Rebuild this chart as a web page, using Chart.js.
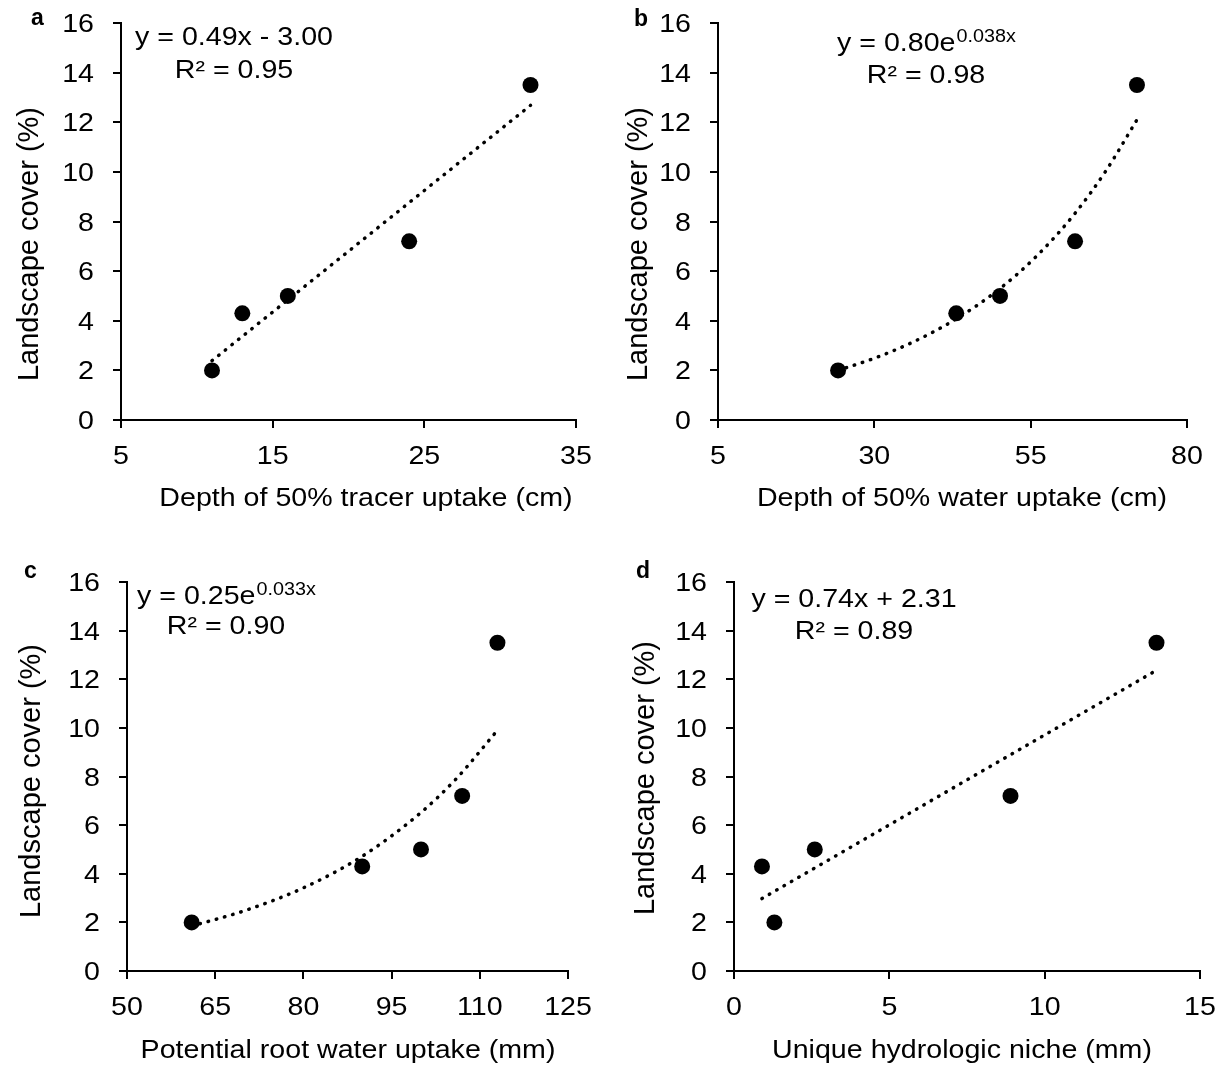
<!DOCTYPE html>
<html>
<head>
<meta charset="utf-8">
<title>Landscape cover vs. root water uptake</title>
<script src="https://cdn.jsdelivr.net/npm/chart.js@4.4.1/dist/chart.umd.min.js"></script>
<style>
  html, body { margin: 0; padding: 0; background: #fff; }
  #figure { position: relative; width: 1223px; height: 1073px; }
  #figure canvas { position: absolute; left: 0; top: 0; }
</style>
</head>
<body>
<div id="figure">
  <canvas id="panel-a" width="1223" height="1073"></canvas>
  <canvas id="panel-b" width="1223" height="1073"></canvas>
  <canvas id="panel-c" width="1223" height="1073"></canvas>
  <canvas id="panel-d" width="1223" height="1073"></canvas>
</div>
<script>
// Landscape cover (%) - same five species in every panel
const coverY = [2, 4.3, 5, 7.2, 13.5];
const coverTicks = [0, 2, 4, 6, 8, 10, 12, 14, 16];

// a - depth of 50% tracer uptake (cm)
const tracerDepth = [11, 13, 16, 24, 32];
const tracerTicks = [5, 15, 25, 35];
const tracerTrendX = [11, 32];
const tracerTrendY = [2.39, 12.68];

// b - depth of 50% water uptake (cm)
const waterDepth = [24.2, 43.1, 50.1, 62.1, 72];
const waterTicks = [5, 30, 55, 80];
const waterTrendX = [24.2, 30, 36, 43, 50, 56, 62, 67, 72];
const waterTrendY = [2.0, 2.49, 3.12, 4.06, 5.28, 6.62, 8.30, 10.03, 12.1];

// c - potential root water uptake (mm)
const rootUptake = [61, 90, 100, 107, 113];
const rootTicks = [50, 65, 80, 95, 110, 125];
const rootTrendX = [61, 70, 80, 90, 100, 106, 113];
const rootTrendY = [1.85, 2.48, 3.42, 4.72, 6.52, 7.91, 9.9];

// d - unique hydrologic niche (mm)
const nicheSize = [1.3, 0.9, 2.6, 8.9, 13.6];
const nicheTicks = [0, 5, 10, 15];
const nicheTrendX = [0.9, 13.6];
const nicheTrendY = [2.98, 12.37];

const PAGE_W = 1223, PAGE_H = 1073;
const STRETCH = 1.1;   // text in the original is drawn a bit wide
const FONT = '"Liberation Sans", Arial, sans-serif';
const TXT = 26;        // tick labels, x titles, equations
const SUP = 18;

const panels = [
  { id: 'panel-a', letter: 'a', x: tracerDepth, xTicks: tracerTicks, trendX: tracerTrendX, trendY: tracerTrendY,
    xTitle: 'Depth of 50% tracer uptake (cm)',
    box: { l: 121, t: 23, r: 576, b: 420 },
    letterPos: [31, 25], yTitlePos: [38, 244], xTitlePos: [366, 506],
    eq: [['y = 0.49x - 3.00'], ['R² = 0.95']], eqPos: [234, 45, 78] },
  { id: 'panel-b', letter: 'b', x: waterDepth, xTicks: waterTicks, trendX: waterTrendX, trendY: waterTrendY,
    xTitle: 'Depth of 50% water uptake (cm)',
    box: { l: 718, t: 23, r: 1187, b: 420 },
    letterPos: [634, 26], yTitlePos: [647, 244], xTitlePos: [962, 506],
    eq: [['y = 0.80e', '0.038x'], ['R² = 0.98']], eqPos: [926, 51, 83] },
  { id: 'panel-c', letter: 'c', x: rootUptake, xTicks: rootTicks, trendX: rootTrendX, trendY: rootTrendY,
    xTitle: 'Potential root water uptake (mm)',
    box: { l: 127, t: 582, r: 568, b: 971 },
    letterPos: [24, 578], yTitlePos: [40, 781], xTitlePos: [348, 1058],
    eq: [['y = 0.25e', '0.033x'], ['R² = 0.90']], eqPos: [226, 604, 634] },
  { id: 'panel-d', letter: 'd', x: nicheSize, xTicks: nicheTicks, trendX: nicheTrendX, trendY: nicheTrendY,
    xTitle: 'Unique hydrologic niche (mm)',
    box: { l: 734, t: 582, r: 1200, b: 971 },
    letterPos: [636, 578], yTitlePos: [654, 778], xTitlePos: [962, 1058],
    eq: [['y = 0.74x + 2.31'], ['R² = 0.89']], eqPos: [854, 607, 639] }
];

function setFont(ctx, size, weight) {
  ctx.font = (weight || 'normal') + ' ' + size + 'px ' + FONT;
}

// draws horizontally stretched text, returns its drawn width
function wideText(ctx, str, x, y, size, align) {
  ctx.save();
  setFont(ctx, size);
  const w = ctx.measureText(str).width * STRETCH;
  const x0 = align === 'right' ? x - w : align === 'center' ? x - w / 2 : x;
  ctx.translate(x0, y);
  ctx.scale(STRETCH, 1);
  ctx.textAlign = 'left';
  ctx.textBaseline = 'alphabetic';
  ctx.fillText(str, 0, 0);
  ctx.restore();
  return w;
}

function textWidth(ctx, str, size) {
  setFont(ctx, size);
  return ctx.measureText(str).width * STRETCH;
}

const labelsPlugin = {
  id: 'panelText',
  afterDraw(chart, args, opts) {
    const p = opts.panel;
    const ctx = chart.ctx;
    const xs = chart.scales.x, ys = chart.scales.y;
    const area = chart.chartArea;
    ctx.save();
    ctx.fillStyle = '#000';

    ys.ticks.forEach(t => {
      wideText(ctx, t.label, area.left - 27, ys.getPixelForValue(t.value) + 9, TXT, 'right');
    });
    xs.ticks.forEach(t => {
      wideText(ctx, t.label, xs.getPixelForValue(t.value), area.bottom + 44, TXT, 'center');
    });

    wideText(ctx, xs.options.title.text, p.xTitlePos[0], p.xTitlePos[1], TXT, 'center');

    ctx.save();
    ctx.translate(p.yTitlePos[0], p.yTitlePos[1]);
    ctx.rotate(-Math.PI / 2);
    setFont(ctx, 29);
    ctx.textAlign = 'center';
    ctx.textBaseline = 'alphabetic';
    ctx.fillText(ys.options.title.text, 0, 0);
    ctx.restore();

    setFont(ctx, 23, 'bold');
    ctx.textAlign = 'left';
    ctx.fillText(p.letter, p.letterPos[0], p.letterPos[1]);

    // equation + R²; second segment is a superscript
    p.eq.forEach((line, i) => {
      const base = p.eqPos[1 + i];
      const wMain = textWidth(ctx, line[0], TXT);
      const wSup = line[1] ? textWidth(ctx, line[1], SUP) : 0;
      let x = p.eqPos[0] - (wMain + wSup) / 2;
      x += wideText(ctx, line[0], x, base, TXT, 'left');
      if (line[1]) wideText(ctx, line[1], x + 1, base - 9, SUP, 'left');
    });
    ctx.restore();
  }
};

panels.forEach(p => {
  const pts = p.x.map((v, i) => ({ x: v, y: coverY[i] }));
  const trend = p.trendX.map((v, i) => ({ x: v, y: p.trendY[i] }));
  const axisLine = { display: true, color: '#000', width: 2 };
  const tickMarks = { display: true, drawOnChartArea: false, drawTicks: true, tickLength: 8, color: '#000', lineWidth: 2 };

  new Chart(document.getElementById(p.id), {
    type: 'scatter',
    data: {
      datasets: [
        { data: pts, pointRadius: 8, pointBackgroundColor: '#000', pointBorderColor: '#000', pointBorderWidth: 0, showLine: false },
        { data: trend, showLine: true, pointRadius: 0, borderColor: '#000', borderWidth: 3.5,
          borderDash: [0.5, 8], borderCapStyle: 'round', tension: 0.4, cubicInterpolationMode: 'monotone' }
      ]
    },
    options: {
      responsive: false,
      devicePixelRatio: 1,
      animation: false,
      events: [],
      layout: { padding: { left: 0, top: p.box.t, right: PAGE_W - p.box.r, bottom: 0 } },
      plugins: { legend: { display: false }, tooltip: { enabled: false }, panelText: { panel: p } },
      scales: {
        x: {
          type: 'linear',
          min: p.xTicks[0], max: p.xTicks[p.xTicks.length - 1],
          afterBuildTicks: s => { s.ticks = p.xTicks.map(v => ({ value: v })); },
          afterFit: s => { s.height = PAGE_H - p.box.b; },
          ticks: { display: false },
          title: { display: false, text: p.xTitle },
          grid: tickMarks, border: axisLine
        },
        y: {
          type: 'linear',
          min: coverTicks[0], max: coverTicks[coverTicks.length - 1],
          afterBuildTicks: s => { s.ticks = coverTicks.map(v => ({ value: v })); },
          afterFit: s => { s.width = p.box.l; },
          ticks: { display: false },
          title: { display: false, text: 'Landscape cover (%)' },
          grid: tickMarks, border: axisLine
        }
      }
    },
    plugins: [labelsPlugin]
  });
});
</script>
</body>
</html>
